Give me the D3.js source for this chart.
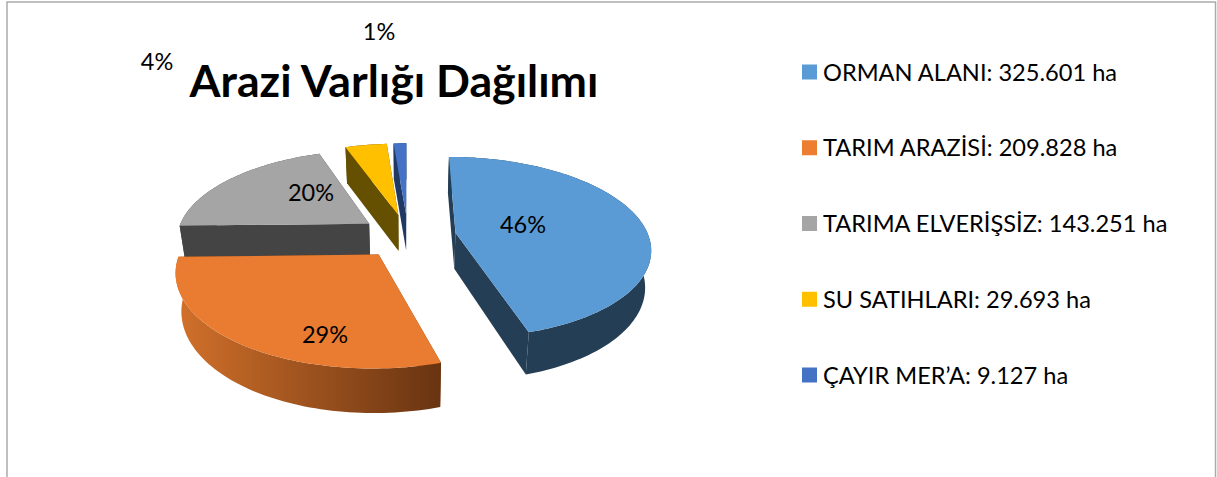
<!DOCTYPE html>
<meta charset="utf-8">
<script src="https://d3js.org/d3.v7.min.js"></script>
<style>
    html, body { margin: 0; padding: 0; background: #fff; overflow: hidden; }
    text { font-family: Lato, "Open Sans", sans-serif; fill: #000; }
</style>
<div id="my_dataviz"></div>

<script>
    var categories = ["ORMAN ALANI", "TARIM ARAZİSİ", "TARIMA ELVERİŞSİZ", "SU SATIHLARI", "ÇAYIR MER’A"];
    var hectares = [325601, 209828, 143251, 29693, 9127];
    var percentLabels = ["46%", "29%", "20%", "4%", "1%"];
    var topColors = ["#5b9bd5", "#e97c30", "#a5a5a5", "#ffc000", "#4472c4"];
    var sideColors = ["#243e55", "url(#orangeSide)", "#444444", "#654f00", "#1f3864"];
    // back slices first so the front ones cover them
    var drawOrder = [2, 3, 4, 0, 1];
    // where excel left the data labels
    var labelSpots = [[523, 225], [325, 335], [311, 193], [157, 62], [379, 32]];

    var width = 1217, height = 477;

    var svg = d3.select("#my_dataviz")
        .append("svg")
        .attr("width", width)
        .attr("height", height)
        .style("display", "block");

    // frame
    svg.append("path")
        .attr("d", "M7,477V2H1215.5V477")
        .attr("fill", "none")
        .attr("stroke", "#ababab")
        .attr("stroke-width", 1.5);

    var grad = svg.append("defs").append("linearGradient")
        .attr("id", "orangeSide")
        .attr("gradientUnits", "userSpaceOnUse")
        .attr("x1", 183).attr("x2", 440).attr("y1", 0).attr("y2", 0);
    grad.append("stop").attr("offset", 0).attr("stop-color", "#cf6f2a");
    grad.append("stop").attr("offset", 1).attr("stop-color", "#693411");

    // tilted pie with some perspective, u/v are in the plane of the pie
    var cx = 408, cy = 236, scaleU = 193, scaleV = 89, persp = 0.16, explode = 0.25;
    var bottomShrink = 0.975, depth = 36;

    function project(u, v, bottom) {
        var w = 1 + persp * v;
        var x = cx + scaleU * u / w;
        var y = cy - scaleV * v / w;
        if (bottom) {
            x = cx + (x - cx) * bottomShrink;
            y = y + depth / Math.min(w, 1);
        }
        return [x, y];
    }

    var pie = d3.pie().sort(null)
        .startAngle(0)
        .endAngle(2 * Math.PI);
    var slices = pie(hectares);

    var line = d3.line();

    function rimPoints(s, bottom) {
        var mid = (s.startAngle + s.endAngle) / 2;
        var ou = explode * Math.sin(mid), ov = explode * Math.cos(mid);
        var n = Math.max(4, Math.ceil((s.endAngle - s.startAngle) * 40));
        return d3.range(n + 1).map(function (i) {
            var a = s.startAngle + (s.endAngle - s.startAngle) * i / n;
            return project(ou + Math.sin(a), ov + Math.cos(a), bottom);
        });
    }

    function apexPoint(s, bottom) {
        var mid = (s.startAngle + s.endAngle) / 2;
        return project(explode * Math.sin(mid), explode * Math.cos(mid), bottom);
    }

    drawOrder.forEach(function (i) {
        var s = slices[i];
        var top = rimPoints(s, false), low = rimPoints(s, true);
        var apexTop = apexPoint(s, false), apexLow = apexPoint(s, true);
        var g = svg.append("g").attr("class", "slice");

        // two radial faces
        var faces = [
            [apexTop, top[0], low[0], apexLow],
            [apexTop, top[top.length - 1], low[low.length - 1], apexLow]
        ];
        var faceColor = i === 1 ? "#7a3d14" : sideColors[i];
        g.selectAll("path.face")
            .data(faces)
            .enter()
            .append("path")
            .attr("class", "face")
            .attr("d", function (d) { return line(d) + "Z"; })
            .attr("fill", faceColor);

        // outer wall
        g.append("path")
            .attr("d", line(top.concat(low.slice().reverse())) + "Z")
            .attr("fill", sideColors[i]);

        // top surface
        g.append("path")
            .attr("d", line([apexTop].concat(top)) + "Z")
            .attr("fill", topColors[i]);
    });

    // title
    svg.append("text")
        .attr("x", 394)
        .attr("y", 97)
        .attr("text-anchor", "middle")
        .style("font-size", "44.7px")
        .style("font-weight", 700)
        .text("Arazi Varlığı Dağılımı");

    // data labels
    svg.selectAll("text.pct")
        .data(percentLabels)
        .enter()
        .append("text")
        .attr("class", "pct")
        .attr("x", function (d, i) { return labelSpots[i][0]; })
        .attr("y", function (d, i) { return labelSpots[i][1]; })
        .attr("dy", "0.36em")
        .attr("text-anchor", "middle")
        .style("font-size", "23.5px")
        .text(function (d) { return d; });

    // legend
    var trLocale = d3.formatLocale({ decimal: ",", thousands: ".", grouping: [3], currency: ["", ""] });
    var fmt = trLocale.format(",d");
    var legendY = d3.scalePoint().domain(categories).range([72, 375]);

    var legend = svg.selectAll("g.legend")
        .data(categories)
        .enter()
        .append("g")
        .attr("class", "legend")
        .attr("transform", function (d) { return "translate(802," + legendY(d) + ")"; });

    legend.append("rect")
        .attr("x", 0)
        .attr("y", -7.5)
        .attr("width", 15)
        .attr("height", 15)
        .attr("fill", function (d, i) { return i === 1 ? "#ed7d31" : topColors[i]; });

    legend.append("text")
        .attr("x", 21)
        .attr("dy", "0.36em")
        .style("font-size", "23.6px")
        .text(function (d, i) { return d + ": " + fmt(hectares[i]) + " ha"; });
</script>
